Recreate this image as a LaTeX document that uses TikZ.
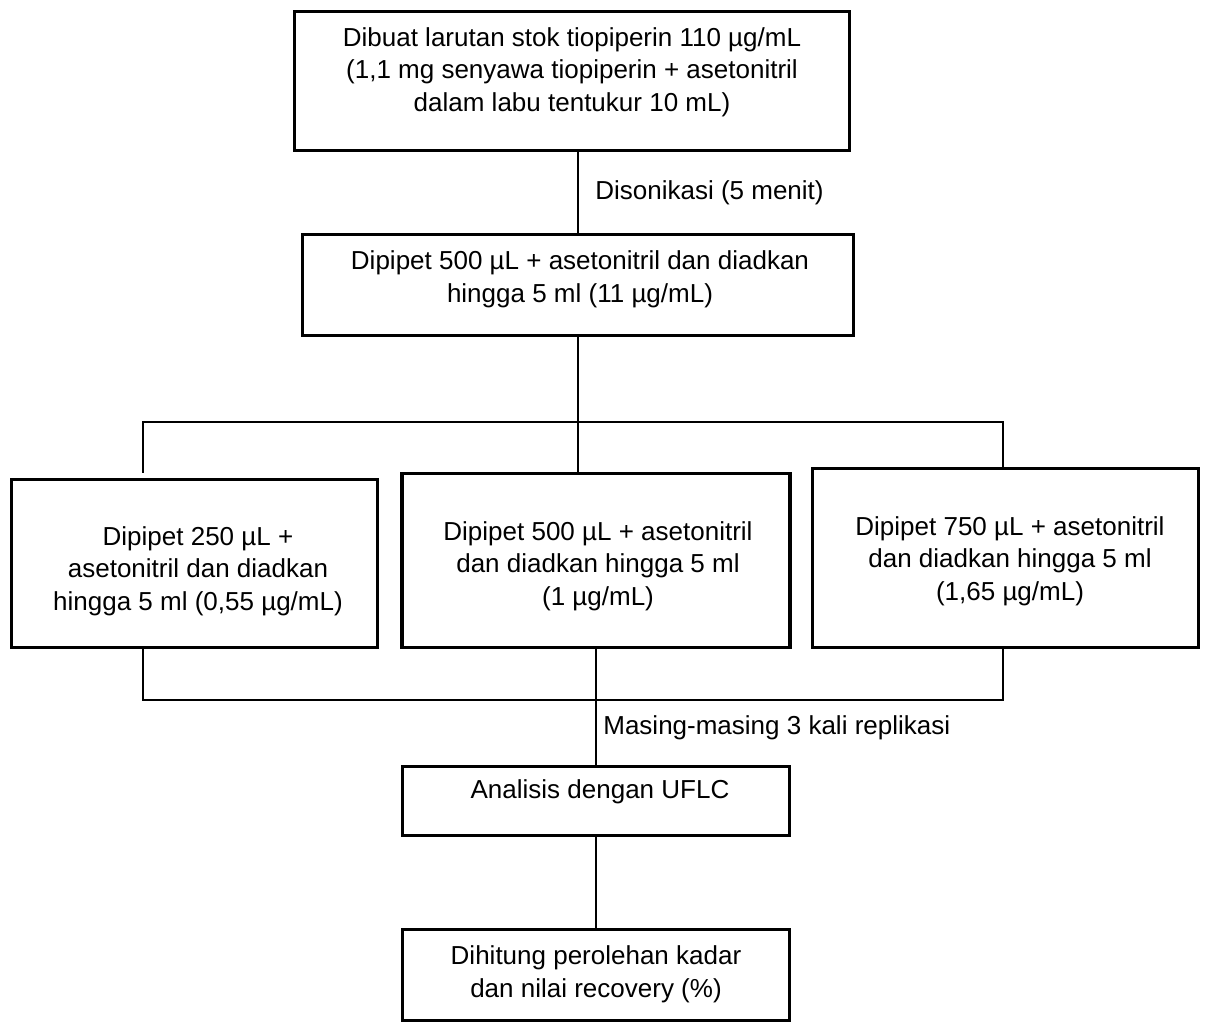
\documentclass[tikz,border=0pt]{standalone}
\usepackage{fontspec}
\setmainfont{Liberation Sans}
\usepackage{tikz}
\usetikzlibrary{positioning,calc}

\begin{document}
\begin{tikzpicture}[
  x=0.02cm, y=-0.02cm, line cap=rect,
  box/.style={draw=black, line width=2pt, rectangle, inner sep=0pt,
              outer sep=0pt},
  txt/.style={align=center, inner sep=0pt,
              font=\fontsize{14.8}{18.6}\selectfont},
  lbl/.style={anchor=west, inner sep=0pt,
              font=\fontsize{14.8}{18.6}\selectfont},
  conn/.style={draw=black, line width=1pt}]

\useasboundingbox (0,0) rectangle (1206,1024);

% ================================================================ stock
\node[box, minimum width=11.10cm, minimum height=2.78cm] (stok) at (572,81) {};
\node[txt] (stoktxt) at (572,72)
  {Dibuat larutan stok tiopiperin 110 µg/mL\\
   (1,1 mg senyawa tiopiperin + asetonitril\\
   dalam labu tentukur 10 mL)};

\node[box, minimum width=11.02cm, minimum height=2.02cm] (encer) at (578,285) {};
\node[txt] (encertxt) at (580,279)
  {Dipipet 500 µL + asetonitril dan diadkan\\
   hingga 5 ml (11 µg/mL)};

\draw[conn] (encer.north |- stok.south) -- (encer.north);
\node[lbl] (sonik) at (595,193) {Disonikasi (5 menit)};

% ================================================================ three levels
\node[box, minimum width=7.32cm, minimum height=3.36cm] (kadarA) at (194.5,563.5) {};
\node[txt] (kadarAtxt) at (198,571)
  {Dipipet 250 µL +\\
   asetonitril dan diadkan\\
   hingga 5 ml (0,55 µg/mL)};

\node[box, minimum width=7.76cm, minimum height=3.48cm] (kadarB) at (596,560.5) {};
\node[txt] (kadarBtxt) at (598,566)
  {Dipipet 500 µL + asetonitril\\
   dan diadkan hingga 5 ml\\
   (1 µg/mL)};

\node[box, minimum width=7.72cm, minimum height=3.58cm] (kadarC) at (1005.5,558) {};
\node[txt] (kadarCtxt) at (1010,561)
  {Dipipet 750 µL + asetonitril\\
   dan diadkan hingga 5 ml\\
   (1,65 µg/mL)};

% split above
\coordinate (bagiL) at (143,422);
\coordinate (bagiR) at (1003,422);
\draw[conn] (encer.south) -- (encer.south |- kadarB.north);
\draw[conn] (bagiL) -- (bagiR);
\draw[conn, shorten >=4pt] (bagiL) -- (bagiL |- kadarA.north);
\draw[conn] (bagiR) -- (bagiR |- kadarC.north);

% join below
\coordinate (gabungL) at (143,700);
\coordinate (gabungR) at (1003,700);
\draw[conn] (gabungL |- kadarA.south) -- (gabungL) -- (gabungR) -- (gabungR |- kadarC.south);

% ================================================================ analysis
\node[box, minimum width=7.74cm, minimum height=1.38cm] (uflc) at (596,801) {};
\node[txt] (uflctxt) at (600,792) {Analisis dengan UFLC};

\node[box, minimum width=7.74cm, minimum height=1.82cm] (hasil) at (596,975) {};
\node[txt] (hasiltxt) at (596,974)
  {Dihitung perolehan kadar\\
   dan nilai recovery (\%)};

\draw[conn] (kadarB.south) -- (uflc.north);
\node[lbl] (replik) at (603,728) {Masing-masing 3 kali replikasi};
\draw[conn] (uflc.south) -- (hasil.north);

\end{tikzpicture}
\end{document}
